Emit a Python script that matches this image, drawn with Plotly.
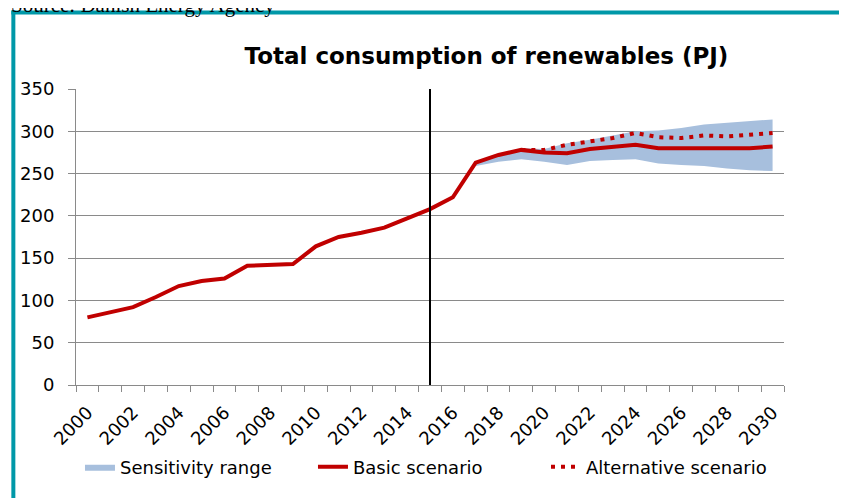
import plotly.graph_objects as go

years = list(range(2000, 2031))
basic = [80, 86, 92, 104, 117, 123, 126, 141, 142, 143, 164, 175, 180, 186, 197,
         208, 222, 263, 272, 278, 275, 274, 279, 281, 284, 280, 280, 280, 280, 280, 282]
band_years = list(range(2017, 2031))
band_low = [259, 264, 267, 264, 260, 265, 266, 267, 262, 260, 259, 256, 254, 253]
band_high = [264, 273, 280, 279, 286, 290, 295, 300, 301, 304, 308, 310, 312, 314]
alt_years = list(range(2019, 2031))
alt = [278, 278, 284, 288, 292, 298, 293, 292, 295, 294, 296, 298]
tick_years = list(range(2000, 2031, 2))
y_ticks = [0, 50, 100, 150, 200, 250, 300, 350]
divider_year = 2015

RED = "#C00000"
BAND = "#A7BFDD"
GRID = "#8A8A8A"
TEAL = "#0098A8"
FONT = "DejaVu Sans"

# page has an 8px body margin; plot area in window pixels: x 72..784, y 89..385
OFF = 8
W, H = 847 - OFF, 498 - OFF


def px_x(wx):
    return (wx - 72) / 712


def px_y(wy):
    return (385 - wy) / 296


fig = go.Figure()
fig.add_trace(go.Scatter(x=band_years, y=band_low, mode="lines",
                         line=dict(width=0, color=BAND), showlegend=False,
                         hoverinfo="skip"))
fig.add_trace(go.Scatter(x=band_years, y=band_high, mode="lines", fill="tonexty",
                         fillcolor=BAND, line=dict(width=0, color=BAND),
                         name="Sensitivity range"))
fig.add_trace(go.Scatter(x=years, y=basic, mode="lines",
                         line=dict(color=RED, width=4), name="Basic scenario"))
fig.add_trace(go.Scatter(x=alt_years, y=alt, mode="lines",
                         line=dict(color=RED, width=4, dash="4px,6px"),
                         name="Alternative scenario"))

fig.add_shape(type="line", xref="x", yref="y", x0=divider_year, x1=divider_year,
              y0=0, y1=350, line=dict(color="black", width=2))
# teal frame
fig.add_shape(type="line", xref="paper", yref="paper", x0=px_x(7), x1=px_x(900),
              y0=px_y(12.5), y1=px_y(12.5), line=dict(color=TEAL, width=4))
fig.add_shape(type="line", xref="paper", yref="paper", x0=px_x(9), x1=px_x(9),
              y0=px_y(10.5), y1=px_y(560), line=dict(color=TEAL, width=4))

fig.add_annotation(text="Source: Danish Energy Agency", xref="paper", yref="paper",
                   x=px_x(5), y=px_y(19), xanchor="left", yanchor="bottom",
                   showarrow=False, font=dict(family="Liberation Serif", size=21,
                                              color="black"))

fig.update_layout(
    width=W, height=H,
    margin=dict(l=72 - OFF, r=847 - 784, t=89 - OFF, b=498 - 385),
    paper_bgcolor="white", plot_bgcolor="white",
    title=dict(text="<b>Total consumption of renewables (PJ)</b>",
               x=(486.5 - OFF) / W, xanchor="center", y=1 - (56 - OFF) / H,
               yanchor="middle",
               font=dict(family=FONT, size=23, color="black")),
    font=dict(family=FONT, size=18, color="black"),
    legend=dict(orientation="h", x=px_x(76), xanchor="left",
                y=px_y(467), yanchor="middle", traceorder="normal",
                entrywidth=188, entrywidthmode="pixels",
                font=dict(family=FONT, size=18, color="black"),
                bgcolor="rgba(0,0,0,0)"),
    showlegend=True,
)
fig.update_xaxes(range=[1999.5, 2030.5], tickmode="array", tickvals=tick_years,
                 ticktext=[str(t) for t in tick_years], tickangle=-45, ticks="",
                 showgrid=False, showline=True, linecolor=GRID, linewidth=1,
                 ticklabelstandoff=9,
                 tickfont=dict(family=FONT, size=18, color="black"),
                 minor=dict(tickmode="array",
                            tickvals=[y - 0.5 for y in years] + [2030.5],
                            ticks="outside", ticklen=6, tickcolor=GRID, tickwidth=1,
                            showgrid=False),
                 zeroline=False)
fig.update_yaxes(range=[0, 350], tickmode="array", tickvals=y_ticks,
                 ticks="outside", ticklen=7, tickcolor=GRID, showgrid=True,
                 gridcolor=GRID, gridwidth=1, showline=True, linecolor=GRID,
                 linewidth=1, zeroline=False, ticklabelstandoff=10,
                 tickfont=dict(family=FONT, size=18, color="black"))

fig.write_html("out.html")
